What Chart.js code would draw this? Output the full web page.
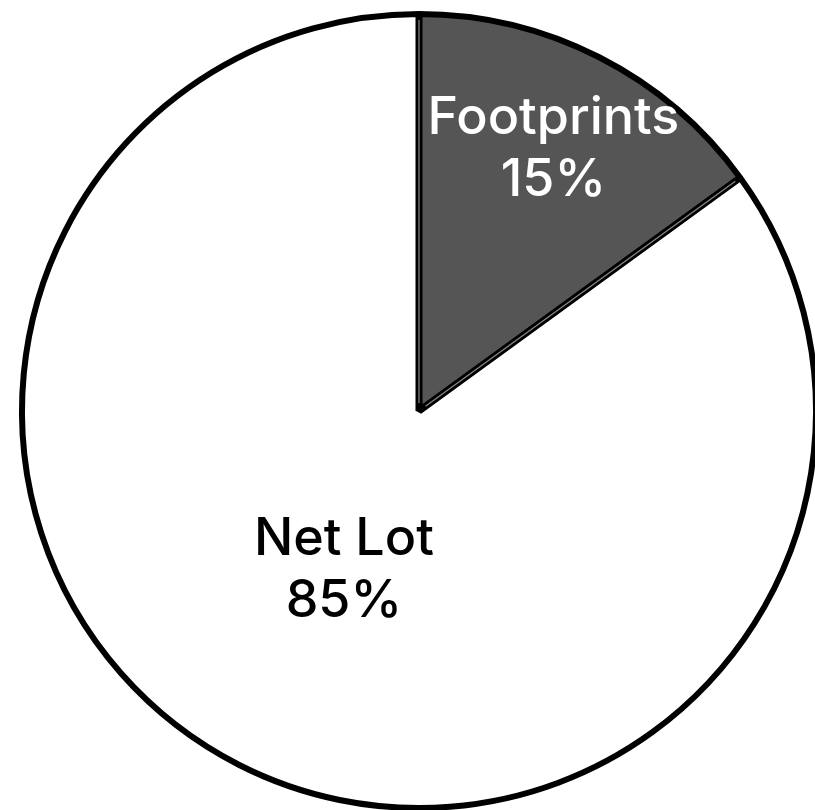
<!DOCTYPE html>
<html>
<head>
  <meta charset="utf-8" />
  <script src="https://cdn.jsdelivr.net/npm/chart.js@4.4.0/dist/chart.umd.min.js"></script>
  <style>
    html, body { margin:0; padding:0; background:#fff; overflow:hidden; width:815px; height:810px; }
    #holder { position:absolute; left:0; top:0; width:838px; height:822px; }
  </style>
</head>
<body>
  <div id="holder"><canvas id="pieChart"></canvas></div>

<script>
const categories = ['Footprints', 'Net Lot'];
const shares = [15, 85];
const sliceColors = ['#555555', '#ffffff'];
const labelColors = ['#ffffff', '#000000'];

// labels sit along each slice's middle angle, at a fraction of the radius
const labelRadius = [0.74, 0.45];
const labelNudgeX = [1, 6];

const sliceLabels = {
  id: 'sliceLabels',
  afterDatasetsDraw(chart) {
    const ctx = chart.ctx;
    const arcs = chart.getDatasetMeta(0).data;
    ctx.save();

    // double rule along the dark slice's straight edges
    const dark = arcs[0];
    const edge = (a, w, col, r0, r1) => {
      ctx.strokeStyle = col;
      ctx.lineWidth = w;
      ctx.beginPath();
      ctx.moveTo(dark.x + Math.cos(a) * r0, dark.y + Math.sin(a) * r0);
      ctx.lineTo(dark.x + Math.cos(a) * r1, dark.y + Math.sin(a) * r1);
      ctx.stroke();
    };
    [dark.startAngle, dark.endAngle].forEach(a => {
      edge(a, 7, '#000000', 0, dark.outerRadius - 1);
      edge(a, 1.2, '#8a8a8a', 8, dark.outerRadius - 6);
    });

    ctx.font = '500 52px Inter, "Liberation Sans", Arial, sans-serif';
    ctx.textAlign = 'center';
    ctx.textBaseline = 'middle';
    arcs.forEach((arc, i) => {
      const mid = (arc.startAngle + arc.endAngle) / 2;
      const r = arc.outerRadius * labelRadius[i];
      const x = arc.x + Math.cos(mid) * r + labelNudgeX[i];
      const y = arc.y + Math.sin(mid) * r;
      ctx.fillStyle = labelColors[i];
      ctx.fillText(categories[i], x, y - 31);
      ctx.fillText(shares[i] + '%', x, y + 31);
    });
    ctx.restore();
  }
};

new Chart(document.getElementById('pieChart'), {
  type: 'pie',
  data: {
    labels: categories,
    datasets: [{
      data: shares,
      backgroundColor: sliceColors,
      borderColor: '#000000',
      borderWidth: 6
    }]
  },
  options: {
    responsive: true,
    maintainAspectRatio: false,
    animation: false,
    layout: { padding: { top: 11, bottom: 11 } },
    plugins: {
      legend: { display: false },
      tooltip: { enabled: false }
    }
  },
  plugins: [sliceLabels]
});
</script>
</body>
</html>
